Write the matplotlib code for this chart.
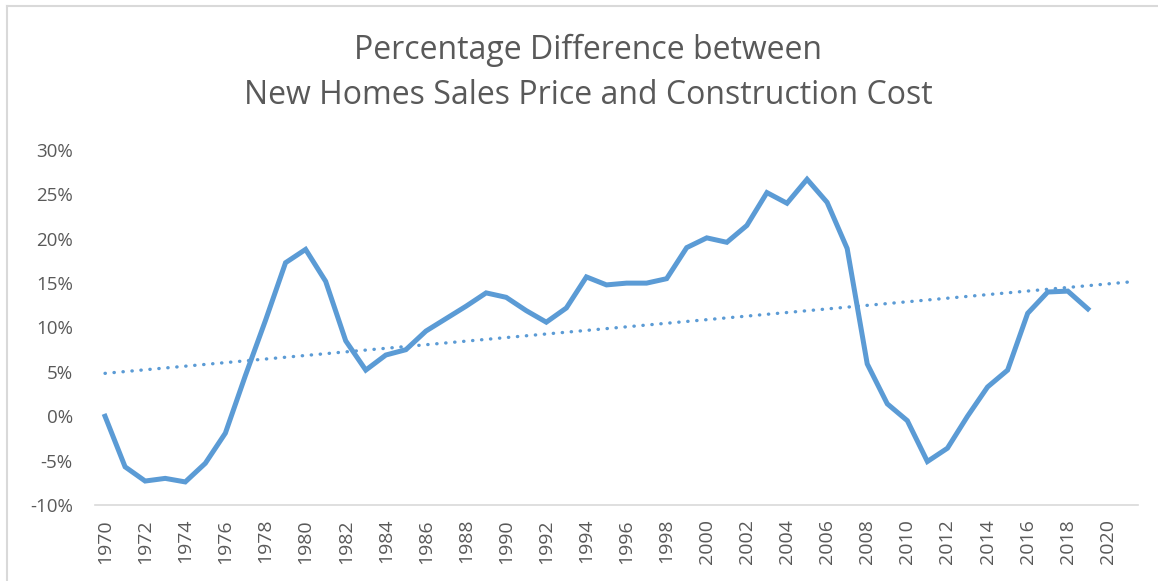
import matplotlib.pyplot as plt
import matplotlib.ticker as mticker
from matplotlib.lines import Line2D
import numpy as np

plt.rcParams['font.family'] = ['Open Sans', 'DejaVu Sans']

# Data
years = list(range(1970, 2020))
pct_diff = [
    0.0, -5.7, -7.3, -7.0, -7.4, -5.3, -1.9, 4.6, 10.8, 17.3,
    18.8, 15.2, 8.5, 5.2, 6.9, 7.5, 9.6, 11.0, 12.4, 13.9,
    13.4, 11.9, 10.6, 12.2, 15.7, 14.8, 15.0, 15.0, 15.5, 19.0,
    20.1, 19.6, 21.5, 25.2, 24.0, 26.7, 24.1, 18.9, 5.9, 1.4,
    -0.5, -5.1, -3.6, 0.0, 3.3, 5.2, 11.6, 14.0, 14.1, 12.1,
]
tick_years = list(range(1970, 2021, 2))
title_lines = ["Percentage Difference between", "New Homes Sales Price and Construction Cost"]

blue = "#5B9BD5"
gray_text = "#595959"
gray_line = "#D9D9D9"


def main():
    fig = plt.figure(figsize=(11.58, 5.81), dpi=100)
    ax = fig.add_axes([95 / 1158, 1 - 505 / 581, (1138 - 95) / 1158, (505 - 150) / 581])

    x = np.array(years, dtype=float)
    y = np.array(pct_diff) / 100.0
    ax.plot(x, y, color=blue, linewidth=3.6, solid_joinstyle="miter", zorder=3)

    # Linear trendline, extended two periods forward
    slope, intercept = np.polyfit(x, y, 1)
    xt = np.array([1970, 2021], dtype=float)
    ax.plot(xt, slope * xt + intercept, color=blue, linewidth=2.4,
            linestyle=(0, (0.1, 2.6)), dash_capstyle="round", zorder=2)

    ax.set_xlim(1969.5, 2021.5)
    ax.set_ylim(-0.10, 0.30)
    ax.set_yticks(np.arange(-0.10, 0.301, 0.05))
    ax.yaxis.set_major_formatter(mticker.FuncFormatter(lambda v, p: f"{v * 100:.0f}%"))
    ax.set_xticks(tick_years)
    ax.set_xticklabels([str(t) for t in tick_years], rotation=90)

    ax.tick_params(axis="y", length=0, pad=16, labelsize=13.5, labelcolor=gray_text)
    ax.tick_params(axis="x", length=0, pad=10, labelsize=14, labelcolor=gray_text)

    for side in ["top", "right", "left"]:
        ax.spines[side].set_visible(False)
    ax.spines["bottom"].set_color(gray_line)
    ax.spines["bottom"].set_linewidth(1.2)

    # Title in two lines
    fig.text(588 / 1158, 1 - 50 / 581, title_lines[0], ha="center", va="center",
             fontsize=23, color=gray_text)
    fig.text(588 / 1158, 1 - 96 / 581, title_lines[1], ha="center", va="center",
             fontsize=23, color=gray_text)

    # Chart area border (left and top edges visible)
    fig.add_artist(Line2D([7 / 1158, 7 / 1158], [0, 1 - 6 / 581], transform=fig.transFigure,
                          color=gray_line, linewidth=1.5))
    fig.add_artist(Line2D([7 / 1158, 1], [1 - 6 / 581, 1 - 6 / 581], transform=fig.transFigure,
                          color=gray_line, linewidth=1.5))

    fig.savefig("out.png", dpi=100)


if __name__ == "__main__":
    main()
